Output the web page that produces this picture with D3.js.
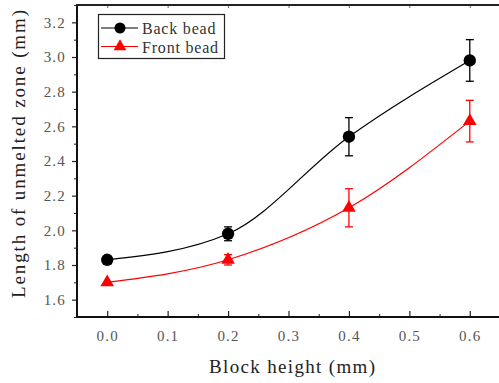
<!DOCTYPE html>
<html>
<head>
<meta charset="utf-8">
<script src="https://cdn.jsdelivr.net/npm/d3@7"></script>
<style>
  body { margin: 0; background: #fff; }
  svg text { font-family: "Liberation Serif", "DejaVu Serif", serif; }
</style>
</head>
<body>
<div id="graph"></div>
<script>
// data
var heights   = [0.0, 0.2, 0.4, 0.6];
var backBead  = [1.83, 1.98, 2.54, 2.98];
var backErr   = [0.00, 0.04, 0.11, 0.12];
var frontBead = [1.70, 1.83, 2.13, 2.63];
var frontErr  = [0.00, 0.03, 0.11, 0.12];

var xTicks = [0.0, 0.1, 0.2, 0.3, 0.4, 0.5, 0.6];
var yTicks = [1.6, 1.8, 2.0, 2.2, 2.4, 2.6, 2.8, 3.0, 3.2];

var W = 499, H = 383;

var svg = d3.select('#graph')
            .append('svg')
            .attr('width', W)
            .attr('height', H);

var xScale = d3.scaleLinear().domain([-0.05, 0.65]).range([77, 500]);
var yScale = d3.scaleLinear().domain([1.5, 3.3]).range([317, 5]);

// minor ticks
var xMinor = d3.range(-0.05, 0.651, 0.05).filter(function (d) { return Math.abs(Math.round(d * 10) - d * 10) > 0.01; });
var yMinor = d3.range(1.5, 3.31, 0.1).filter(function (d) { return Math.abs(Math.round(d * 5) - d * 5) > 0.01; });

// bottom axis, ticks pointing inward
var xAxis = d3.axisBottom(xScale).tickValues(xTicks).tickSize(-6).tickPadding(13)
              .tickFormat(d3.format('.1f'));
var gx = svg.append('g').attr('transform', 'translate(0,317)').call(xAxis);
gx.select('.domain').remove();
gx.selectAll('line').attr('stroke', '#222').attr('stroke-width', 1.2);
gx.selectAll('text').attr('font-size', 15).attr('fill', '#555').attr('letter-spacing', 1.2);

svg.append('g').attr('transform', 'translate(0,317)')
   .call(d3.axisBottom(xScale).tickValues(xMinor).tickSize(-3).tickFormat(''))
   .call(function (g) { g.select('.domain').remove(); g.selectAll('line').attr('stroke', '#222'); });

// top axis ticks
svg.append('g').attr('transform', 'translate(0,5)')
   .call(d3.axisTop(xScale).tickValues(xTicks).tickSize(-3).tickFormat(''))
   .call(function (g) { g.select('.domain').remove(); g.selectAll('line').attr('stroke', '#666'); });

// left axis, ticks pointing outward
var yAxis = d3.axisLeft(yScale).tickValues(yTicks).tickSize(5).tickPadding(6)
              .tickFormat(d3.format('.1f'));
var gy = svg.append('g').attr('transform', 'translate(77,0)').call(yAxis);
gy.select('.domain').remove();
gy.selectAll('line').attr('stroke', '#222').attr('stroke-width', 1.2);
gy.selectAll('text').attr('font-size', 15).attr('fill', '#555').attr('letter-spacing', 1.2);

svg.append('g').attr('transform', 'translate(77,0)')
   .call(d3.axisLeft(yScale).tickValues(yMinor).tickSize(3).tickFormat(''))
   .call(function (g) { g.select('.domain').remove(); g.selectAll('line').attr('stroke', '#222'); });

// frame lines
svg.append('line').attr('x1', 77).attr('x2', 77).attr('y1', 4).attr('y2', 318)
   .attr('stroke', '#111').attr('stroke-width', 2);
svg.append('line').attr('x1', 76).attr('x2', W).attr('y1', 317).attr('y2', 317)
   .attr('stroke', '#111').attr('stroke-width', 2);
svg.append('line').attr('x1', 76).attr('x2', W).attr('y1', 5).attr('y2', 5)
   .attr('stroke', '#222').attr('stroke-width', 2);

// axis titles
svg.append('text')
   .attr('x', 209).attr('y', 373)
   .attr('font-size', 19).attr('fill', '#222')
   .attr('textLength', 166).attr('lengthAdjust', 'spacing')
   .text('Block height (mm)');

svg.append('text')
   .attr('transform', 'translate(25,298) rotate(-90)')
   .attr('font-size', 19).attr('fill', '#222')
   .attr('textLength', 288).attr('lengthAdjust', 'spacing')
   .text('Length of unmelted zone (mm)');

// series
var series = [
    { name: 'Back bead',  values: backBead,  errs: backErr,  colour: '#000000', marker: d3.symbolCircle },
    { name: 'Front bead', values: frontBead, errs: frontErr, colour: '#ff0000', marker: d3.symbolTriangle }
];

var line = d3.line()
             .x(function (d) { return xScale(d[0]); })
             .y(function (d) { return yScale(d[1]); })
             .curve(d3.curveMonotoneX);

series.forEach(function (s) {
    var pts = heights.map(function (h, i) { return [h, s.values[i], s.errs[i]]; });

    svg.append('path')
       .datum(pts)
       .attr('d', line)
       .attr('fill', 'none')
       .attr('stroke', s.colour)
       .attr('stroke-width', 1.2);

    var eb = svg.append('g').attr('stroke', s.colour).attr('stroke-width', 1.3);
    pts.filter(function (d) { return d[2] > 0; }).forEach(function (d) {
        var x = xScale(d[0]), y1 = yScale(d[1] + d[2]), y2 = yScale(d[1] - d[2]);
        eb.append('line').attr('x1', x).attr('x2', x).attr('y1', y1).attr('y2', y2);
        eb.append('line').attr('x1', x - 4).attr('x2', x + 4).attr('y1', y1).attr('y2', y1);
        eb.append('line').attr('x1', x - 4).attr('x2', x + 4).attr('y1', y2).attr('y2', y2);
    });

    svg.selectAll(null)
       .data(pts)
       .enter()
       .append('path')
       .attr('transform', function (d) { return 'translate(' + xScale(d[0]) + ',' + yScale(d[1]) + ')'; })
       .attr('d', d3.symbol().type(s.marker).size(s.marker === d3.symbolCircle ? 120 : 80))
       .attr('fill', s.colour);
});

// legend
var legend = svg.append('g');
legend.append('rect')
      .attr('x', 98.5).attr('y', 14.5).attr('width', 126).attr('height', 44)
      .attr('fill', '#fff').attr('stroke', '#222').attr('stroke-width', 1.2);

series.forEach(function (s, i) {
    var y = 28 + i * 18.5;
    legend.append('line').attr('x1', 101).attr('x2', 138).attr('y1', y).attr('y2', y)
          .attr('stroke', s.colour).attr('stroke-width', 1.2);
    legend.append('path')
          .attr('transform', 'translate(120,' + y + ')')
          .attr('d', d3.symbol().type(s.marker).size(s.marker === d3.symbolCircle ? 95 : 70))
          .attr('fill', s.colour);
    legend.append('text')
          .attr('x', 142).attr('y', y + 6)
          .attr('font-size', 16).attr('fill', '#333').attr('letter-spacing', 0.8)
          .text(s.name);
});
</script>
</body>
</html>
